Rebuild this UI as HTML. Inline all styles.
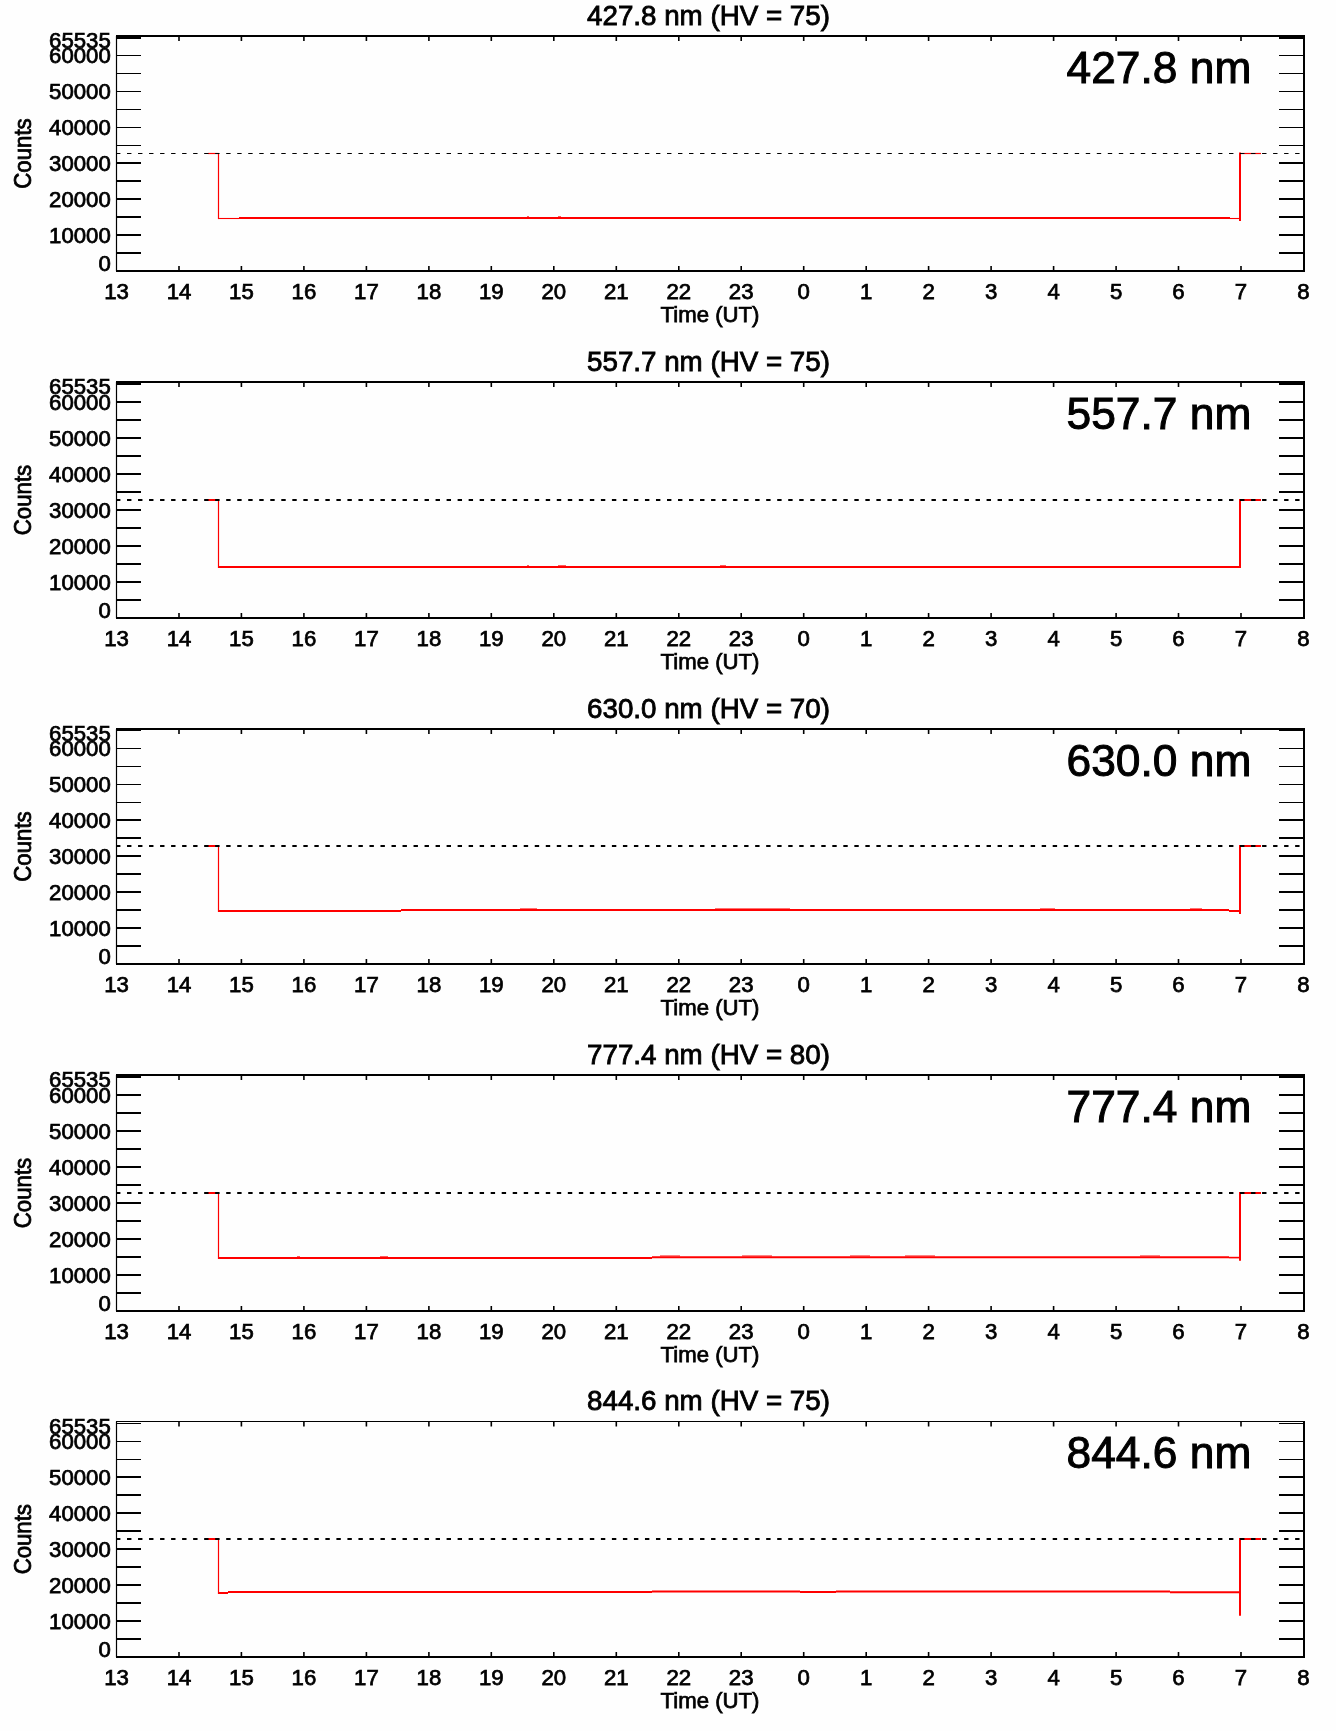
<!DOCTYPE html><html><head><meta charset="utf-8"><title>Chart</title><style>
html,body{margin:0;padding:0;background:#fff}svg{display:block;will-change:transform}
text{font-family:"Liberation Sans",sans-serif;fill:#000;stroke:#000;stroke-width:0.75px}
.t{font-size:22.2px}.ti{font-size:27.75px;stroke-width:0.85px}.bg{font-size:44.3px;stroke-width:1px}
</style></head><body>
<svg width="1336" height="1731" viewBox="0 0 1336 1731">
<rect width="1336" height="1731" fill="#fefefe"/>
<g>
<text class="ti" transform="translate(708.5 24.5) scale(1 1.0)" text-anchor="middle">427.8 nm (HV = 75)</text>
<text class="bg" transform="translate(1251.3 82.8) scale(1 1.0)" text-anchor="end">427.8 nm</text>
<g stroke="#000" fill="none" stroke-width="2">
<line x1="116" x2="1305" y1="36" y2="36" stroke-width="2"/>
<line x1="116" x2="1305" y1="271" y2="271"/>
<line x1="116.5" x2="116.5" y1="36" y2="271" stroke-width="1.2"/>
<line x1="1304.0" x2="1304.0" y1="35.0" y2="272"/>
<path d="M116.5 253.0H141M1279 253.0H1304.0" stroke-width="2"/>
<path d="M116.5 235.0H141M1279 235.0H1304.0" stroke-width="2"/>
<path d="M116.5 217.0H141M1279 217.0H1304.0" stroke-width="2"/>
<path d="M116.5 199.0H141M1279 199.0H1304.0" stroke-width="2"/>
<path d="M116.5 181.0H141M1279 181.0H1304.0" stroke-width="2"/>
<path d="M116.5 163.0H141M1279 163.0H1304.0" stroke-width="2"/>
<path d="M116.5 145.5H141M1279 145.5H1304.0" stroke-width="1.1"/>
<path d="M116.5 127.5H141M1279 127.5H1304.0" stroke-width="1.1"/>
<path d="M116.5 109.5H141M1279 109.5H1304.0" stroke-width="1.1"/>
<path d="M116.5 91.5H141M1279 91.5H1304.0" stroke-width="1.1"/>
<path d="M116.5 73.5H141M1279 73.5H1304.0" stroke-width="1.1"/>
<path d="M116.5 55.5H141M1279 55.5H1304.0" stroke-width="1.1"/>
<path d="M116.5 38H141M1279 38H1304.0" stroke-width="2"/>
<path d="M179.0 36v5M179.0 271v-5" stroke-width="1.6"/>
<path d="M241.4 36v5M241.4 271v-5" stroke-width="1.6"/>
<path d="M303.9 36v5M303.9 271v-5" stroke-width="1.6"/>
<path d="M366.4 36v5M366.4 271v-5" stroke-width="1.6"/>
<path d="M428.9 36v5M428.9 271v-5" stroke-width="1.6"/>
<path d="M491.3 36v5M491.3 271v-5" stroke-width="1.6"/>
<path d="M553.8 36v5M553.8 271v-5" stroke-width="1.6"/>
<path d="M616.3 36v5M616.3 271v-5" stroke-width="1.6"/>
<path d="M678.8 36v5M678.8 271v-5" stroke-width="1.6"/>
<path d="M741.2 36v5M741.2 271v-5" stroke-width="1.6"/>
<path d="M803.7 36v5M803.7 271v-5" stroke-width="1.6"/>
<path d="M866.2 36v5M866.2 271v-5" stroke-width="1.6"/>
<path d="M928.6 36v5M928.6 271v-5" stroke-width="1.6"/>
<path d="M991.1 36v5M991.1 271v-5" stroke-width="1.6"/>
<path d="M1053.6 36v5M1053.6 271v-5" stroke-width="1.6"/>
<path d="M1116.1 36v5M1116.1 271v-5" stroke-width="1.6"/>
<path d="M1178.5 36v5M1178.5 271v-5" stroke-width="1.6"/>
<path d="M1241.0 36v5M1241.0 271v-5" stroke-width="1.6"/>
</g>
<text class="t" transform="translate(116.5 298.9) scale(1 1.0)" text-anchor="middle">13</text>
<text class="t" transform="translate(179.0 298.9) scale(1 1.0)" text-anchor="middle">14</text>
<text class="t" transform="translate(241.4 298.9) scale(1 1.0)" text-anchor="middle">15</text>
<text class="t" transform="translate(303.9 298.9) scale(1 1.0)" text-anchor="middle">16</text>
<text class="t" transform="translate(366.4 298.9) scale(1 1.0)" text-anchor="middle">17</text>
<text class="t" transform="translate(428.9 298.9) scale(1 1.0)" text-anchor="middle">18</text>
<text class="t" transform="translate(491.3 298.9) scale(1 1.0)" text-anchor="middle">19</text>
<text class="t" transform="translate(553.8 298.9) scale(1 1.0)" text-anchor="middle">20</text>
<text class="t" transform="translate(616.3 298.9) scale(1 1.0)" text-anchor="middle">21</text>
<text class="t" transform="translate(678.8 298.9) scale(1 1.0)" text-anchor="middle">22</text>
<text class="t" transform="translate(741.2 298.9) scale(1 1.0)" text-anchor="middle">23</text>
<text class="t" transform="translate(803.7 298.9) scale(1 1.0)" text-anchor="middle">0</text>
<text class="t" transform="translate(866.2 298.9) scale(1 1.0)" text-anchor="middle">1</text>
<text class="t" transform="translate(928.6 298.9) scale(1 1.0)" text-anchor="middle">2</text>
<text class="t" transform="translate(991.1 298.9) scale(1 1.0)" text-anchor="middle">3</text>
<text class="t" transform="translate(1053.6 298.9) scale(1 1.0)" text-anchor="middle">4</text>
<text class="t" transform="translate(1116.1 298.9) scale(1 1.0)" text-anchor="middle">5</text>
<text class="t" transform="translate(1178.5 298.9) scale(1 1.0)" text-anchor="middle">6</text>
<text class="t" transform="translate(1241.0 298.9) scale(1 1.0)" text-anchor="middle">7</text>
<text class="t" transform="translate(1303.5 298.9) scale(1 1.0)" text-anchor="middle">8</text>
<text class="t" transform="translate(710.0 322.4) scale(1 1.0)" text-anchor="middle">Time (UT)</text>
<text class="t" transform="translate(110.8 271.2) scale(1 1.0)" text-anchor="end">0</text>
<text class="t" transform="translate(110.8 243.1) scale(1 1.0)" text-anchor="end">10000</text>
<text class="t" transform="translate(110.8 207.1) scale(1 1.0)" text-anchor="end">20000</text>
<text class="t" transform="translate(110.8 171.1) scale(1 1.0)" text-anchor="end">30000</text>
<text class="t" transform="translate(110.8 135.1) scale(1 1.0)" text-anchor="end">40000</text>
<text class="t" transform="translate(110.8 99.1) scale(1 1.0)" text-anchor="end">50000</text>
<text class="t" transform="translate(110.8 63.1) scale(1 1.0)" text-anchor="end">60000</text>
<text class="t" transform="translate(110.8 48.3) scale(1 1.0)" text-anchor="end">65535</text>
<text class="t" transform="translate(31.3 153.5) rotate(-90) scale(1 1.07) scale(1 1.0)" text-anchor="middle">Counts</text>
<g stroke="#f00" fill="none">
<path d="M208 153.5H219" stroke-width="1.2"/>
<path d="M218.5 153.5V219.05" stroke-width="1.2"/>
<path d="M218 218.5H239" stroke-width="1.1"/>
<path d="M239 218H1230" stroke-width="2"/>
<path d="M1230 218.5H1240" stroke-width="1.1"/>
<path d="M527 216.7h2" stroke-width="0.8"/>
<path d="M558 216.7h3" stroke-width="0.8"/>
<path d="M1240 221V152.5" stroke-width="2"/>
<path d="M1240 153.5H1261" stroke-width="1.2"/>
</g>
<path d="M116 153.5H1301" stroke="#000" stroke-width="1.2" stroke-dasharray="4.4 6.62" fill="none"/>
</g>
<g>
<text class="ti" transform="translate(708.5 370.5) scale(1 1.0)" text-anchor="middle">557.7 nm (HV = 75)</text>
<text class="bg" transform="translate(1251.3 428.8) scale(1 1.0)" text-anchor="end">557.7 nm</text>
<g stroke="#000" fill="none" stroke-width="2">
<line x1="116" x2="1305" y1="382" y2="382" stroke-width="2"/>
<line x1="116" x2="1305" y1="618" y2="618"/>
<line x1="116.5" x2="116.5" y1="382" y2="618" stroke-width="1.2"/>
<line x1="1304.0" x2="1304.0" y1="381.0" y2="619"/>
<path d="M116.5 600.0H141M1279 600.0H1304.0" stroke-width="2"/>
<path d="M116.5 582.0H141M1279 582.0H1304.0" stroke-width="2"/>
<path d="M116.5 564.0H141M1279 564.0H1304.0" stroke-width="2"/>
<path d="M116.5 546.0H141M1279 546.0H1304.0" stroke-width="2"/>
<path d="M116.5 528.0H141M1279 528.0H1304.0" stroke-width="2"/>
<path d="M116.5 510.0H141M1279 510.0H1304.0" stroke-width="2"/>
<path d="M116.5 492.0H141M1279 492.0H1304.0" stroke-width="2"/>
<path d="M116.5 474.0H141M1279 474.0H1304.0" stroke-width="2"/>
<path d="M116.5 456.0H141M1279 456.0H1304.0" stroke-width="2"/>
<path d="M116.5 438.0H141M1279 438.0H1304.0" stroke-width="2"/>
<path d="M116.5 420.0H141M1279 420.0H1304.0" stroke-width="2"/>
<path d="M116.5 402.0H141M1279 402.0H1304.0" stroke-width="2"/>
<path d="M116.5 384H141M1279 384H1304.0" stroke-width="2"/>
<path d="M179.0 382v5M179.0 618v-5" stroke-width="1.6"/>
<path d="M241.4 382v5M241.4 618v-5" stroke-width="1.6"/>
<path d="M303.9 382v5M303.9 618v-5" stroke-width="1.6"/>
<path d="M366.4 382v5M366.4 618v-5" stroke-width="1.6"/>
<path d="M428.9 382v5M428.9 618v-5" stroke-width="1.6"/>
<path d="M491.3 382v5M491.3 618v-5" stroke-width="1.6"/>
<path d="M553.8 382v5M553.8 618v-5" stroke-width="1.6"/>
<path d="M616.3 382v5M616.3 618v-5" stroke-width="1.6"/>
<path d="M678.8 382v5M678.8 618v-5" stroke-width="1.6"/>
<path d="M741.2 382v5M741.2 618v-5" stroke-width="1.6"/>
<path d="M803.7 382v5M803.7 618v-5" stroke-width="1.6"/>
<path d="M866.2 382v5M866.2 618v-5" stroke-width="1.6"/>
<path d="M928.6 382v5M928.6 618v-5" stroke-width="1.6"/>
<path d="M991.1 382v5M991.1 618v-5" stroke-width="1.6"/>
<path d="M1053.6 382v5M1053.6 618v-5" stroke-width="1.6"/>
<path d="M1116.1 382v5M1116.1 618v-5" stroke-width="1.6"/>
<path d="M1178.5 382v5M1178.5 618v-5" stroke-width="1.6"/>
<path d="M1241.0 382v5M1241.0 618v-5" stroke-width="1.6"/>
</g>
<text class="t" transform="translate(116.5 645.9) scale(1 1.0)" text-anchor="middle">13</text>
<text class="t" transform="translate(179.0 645.9) scale(1 1.0)" text-anchor="middle">14</text>
<text class="t" transform="translate(241.4 645.9) scale(1 1.0)" text-anchor="middle">15</text>
<text class="t" transform="translate(303.9 645.9) scale(1 1.0)" text-anchor="middle">16</text>
<text class="t" transform="translate(366.4 645.9) scale(1 1.0)" text-anchor="middle">17</text>
<text class="t" transform="translate(428.9 645.9) scale(1 1.0)" text-anchor="middle">18</text>
<text class="t" transform="translate(491.3 645.9) scale(1 1.0)" text-anchor="middle">19</text>
<text class="t" transform="translate(553.8 645.9) scale(1 1.0)" text-anchor="middle">20</text>
<text class="t" transform="translate(616.3 645.9) scale(1 1.0)" text-anchor="middle">21</text>
<text class="t" transform="translate(678.8 645.9) scale(1 1.0)" text-anchor="middle">22</text>
<text class="t" transform="translate(741.2 645.9) scale(1 1.0)" text-anchor="middle">23</text>
<text class="t" transform="translate(803.7 645.9) scale(1 1.0)" text-anchor="middle">0</text>
<text class="t" transform="translate(866.2 645.9) scale(1 1.0)" text-anchor="middle">1</text>
<text class="t" transform="translate(928.6 645.9) scale(1 1.0)" text-anchor="middle">2</text>
<text class="t" transform="translate(991.1 645.9) scale(1 1.0)" text-anchor="middle">3</text>
<text class="t" transform="translate(1053.6 645.9) scale(1 1.0)" text-anchor="middle">4</text>
<text class="t" transform="translate(1116.1 645.9) scale(1 1.0)" text-anchor="middle">5</text>
<text class="t" transform="translate(1178.5 645.9) scale(1 1.0)" text-anchor="middle">6</text>
<text class="t" transform="translate(1241.0 645.9) scale(1 1.0)" text-anchor="middle">7</text>
<text class="t" transform="translate(1303.5 645.9) scale(1 1.0)" text-anchor="middle">8</text>
<text class="t" transform="translate(710.0 669.4) scale(1 1.0)" text-anchor="middle">Time (UT)</text>
<text class="t" transform="translate(110.8 618.2) scale(1 1.0)" text-anchor="end">0</text>
<text class="t" transform="translate(110.8 590.1) scale(1 1.0)" text-anchor="end">10000</text>
<text class="t" transform="translate(110.8 554.1) scale(1 1.0)" text-anchor="end">20000</text>
<text class="t" transform="translate(110.8 518.1) scale(1 1.0)" text-anchor="end">30000</text>
<text class="t" transform="translate(110.8 482.1) scale(1 1.0)" text-anchor="end">40000</text>
<text class="t" transform="translate(110.8 446.1) scale(1 1.0)" text-anchor="end">50000</text>
<text class="t" transform="translate(110.8 410.1) scale(1 1.0)" text-anchor="end">60000</text>
<text class="t" transform="translate(110.8 394.3) scale(1 1.0)" text-anchor="end">65535</text>
<text class="t" transform="translate(31.3 500.0) rotate(-90) scale(1 1.07) scale(1 1.0)" text-anchor="middle">Counts</text>
<g stroke="#f00" fill="none">
<path d="M208 500H219" stroke-width="2"/>
<path d="M218.5 500V568.0" stroke-width="1.2"/>
<path d="M218 567H228" stroke-width="2"/>
<path d="M228 567H1240" stroke-width="2"/>
<path d="M527 565.7h2" stroke-width="0.8"/>
<path d="M558 565.7h8" stroke-width="0.8"/>
<path d="M720 565.7h6" stroke-width="0.8"/>
<path d="M1240 568V499" stroke-width="2"/>
<path d="M1240 500H1261" stroke-width="2"/>
</g>
<path d="M116 500H1301" stroke="#000" stroke-width="2" stroke-dasharray="4.4 6.62" fill="none"/>
</g>
<g>
<text class="ti" transform="translate(708.5 717.5) scale(1 1.0)" text-anchor="middle">630.0 nm (HV = 70)</text>
<text class="bg" transform="translate(1251.3 775.8) scale(1 1.0)" text-anchor="end">630.0 nm</text>
<g stroke="#000" fill="none" stroke-width="2">
<line x1="116" x2="1305" y1="729" y2="729" stroke-width="2"/>
<line x1="116" x2="1305" y1="964" y2="964"/>
<line x1="116.5" x2="116.5" y1="729" y2="964" stroke-width="1.2"/>
<line x1="1304.0" x2="1304.0" y1="728.0" y2="965"/>
<path d="M116.5 946.0H141M1279 946.0H1304.0" stroke-width="2"/>
<path d="M116.5 928.0H141M1279 928.0H1304.0" stroke-width="2"/>
<path d="M116.5 910.0H141M1279 910.0H1304.0" stroke-width="2"/>
<path d="M116.5 892.0H141M1279 892.0H1304.0" stroke-width="2"/>
<path d="M116.5 874.0H141M1279 874.0H1304.0" stroke-width="2"/>
<path d="M116.5 856.0H141M1279 856.0H1304.0" stroke-width="2"/>
<path d="M116.5 838.0H141M1279 838.0H1304.0" stroke-width="2"/>
<path d="M116.5 820.0H141M1279 820.0H1304.0" stroke-width="2"/>
<path d="M116.5 802.5H141M1279 802.5H1304.0" stroke-width="1.1"/>
<path d="M116.5 784.5H141M1279 784.5H1304.0" stroke-width="1.1"/>
<path d="M116.5 766.5H141M1279 766.5H1304.0" stroke-width="1.1"/>
<path d="M116.5 748.5H141M1279 748.5H1304.0" stroke-width="1.1"/>
<path d="M116.5 730.5H141M1279 730.5H1304.0" stroke-width="1"/>
<path d="M179.0 729v5M179.0 964v-5" stroke-width="1.6"/>
<path d="M241.4 729v5M241.4 964v-5" stroke-width="1.6"/>
<path d="M303.9 729v5M303.9 964v-5" stroke-width="1.6"/>
<path d="M366.4 729v5M366.4 964v-5" stroke-width="1.6"/>
<path d="M428.9 729v5M428.9 964v-5" stroke-width="1.6"/>
<path d="M491.3 729v5M491.3 964v-5" stroke-width="1.6"/>
<path d="M553.8 729v5M553.8 964v-5" stroke-width="1.6"/>
<path d="M616.3 729v5M616.3 964v-5" stroke-width="1.6"/>
<path d="M678.8 729v5M678.8 964v-5" stroke-width="1.6"/>
<path d="M741.2 729v5M741.2 964v-5" stroke-width="1.6"/>
<path d="M803.7 729v5M803.7 964v-5" stroke-width="1.6"/>
<path d="M866.2 729v5M866.2 964v-5" stroke-width="1.6"/>
<path d="M928.6 729v5M928.6 964v-5" stroke-width="1.6"/>
<path d="M991.1 729v5M991.1 964v-5" stroke-width="1.6"/>
<path d="M1053.6 729v5M1053.6 964v-5" stroke-width="1.6"/>
<path d="M1116.1 729v5M1116.1 964v-5" stroke-width="1.6"/>
<path d="M1178.5 729v5M1178.5 964v-5" stroke-width="1.6"/>
<path d="M1241.0 729v5M1241.0 964v-5" stroke-width="1.6"/>
</g>
<text class="t" transform="translate(116.5 991.9) scale(1 1.0)" text-anchor="middle">13</text>
<text class="t" transform="translate(179.0 991.9) scale(1 1.0)" text-anchor="middle">14</text>
<text class="t" transform="translate(241.4 991.9) scale(1 1.0)" text-anchor="middle">15</text>
<text class="t" transform="translate(303.9 991.9) scale(1 1.0)" text-anchor="middle">16</text>
<text class="t" transform="translate(366.4 991.9) scale(1 1.0)" text-anchor="middle">17</text>
<text class="t" transform="translate(428.9 991.9) scale(1 1.0)" text-anchor="middle">18</text>
<text class="t" transform="translate(491.3 991.9) scale(1 1.0)" text-anchor="middle">19</text>
<text class="t" transform="translate(553.8 991.9) scale(1 1.0)" text-anchor="middle">20</text>
<text class="t" transform="translate(616.3 991.9) scale(1 1.0)" text-anchor="middle">21</text>
<text class="t" transform="translate(678.8 991.9) scale(1 1.0)" text-anchor="middle">22</text>
<text class="t" transform="translate(741.2 991.9) scale(1 1.0)" text-anchor="middle">23</text>
<text class="t" transform="translate(803.7 991.9) scale(1 1.0)" text-anchor="middle">0</text>
<text class="t" transform="translate(866.2 991.9) scale(1 1.0)" text-anchor="middle">1</text>
<text class="t" transform="translate(928.6 991.9) scale(1 1.0)" text-anchor="middle">2</text>
<text class="t" transform="translate(991.1 991.9) scale(1 1.0)" text-anchor="middle">3</text>
<text class="t" transform="translate(1053.6 991.9) scale(1 1.0)" text-anchor="middle">4</text>
<text class="t" transform="translate(1116.1 991.9) scale(1 1.0)" text-anchor="middle">5</text>
<text class="t" transform="translate(1178.5 991.9) scale(1 1.0)" text-anchor="middle">6</text>
<text class="t" transform="translate(1241.0 991.9) scale(1 1.0)" text-anchor="middle">7</text>
<text class="t" transform="translate(1303.5 991.9) scale(1 1.0)" text-anchor="middle">8</text>
<text class="t" transform="translate(710.0 1015.4) scale(1 1.0)" text-anchor="middle">Time (UT)</text>
<text class="t" transform="translate(110.8 964.2) scale(1 1.0)" text-anchor="end">0</text>
<text class="t" transform="translate(110.8 936.1) scale(1 1.0)" text-anchor="end">10000</text>
<text class="t" transform="translate(110.8 900.1) scale(1 1.0)" text-anchor="end">20000</text>
<text class="t" transform="translate(110.8 864.1) scale(1 1.0)" text-anchor="end">30000</text>
<text class="t" transform="translate(110.8 828.1) scale(1 1.0)" text-anchor="end">40000</text>
<text class="t" transform="translate(110.8 792.1) scale(1 1.0)" text-anchor="end">50000</text>
<text class="t" transform="translate(110.8 756.1) scale(1 1.0)" text-anchor="end">60000</text>
<text class="t" transform="translate(110.8 741.3) scale(1 1.0)" text-anchor="end">65535</text>
<text class="t" transform="translate(31.3 846.5) rotate(-90) scale(1 1.07) scale(1 1.0)" text-anchor="middle">Counts</text>
<g stroke="#f00" fill="none">
<path d="M208 846H219" stroke-width="2"/>
<path d="M218.5 846V912.0" stroke-width="1.2"/>
<path d="M218 911H401" stroke-width="2"/>
<path d="M401 910H1229" stroke-width="1.8"/>
<path d="M1229 911H1240" stroke-width="2"/>
<path d="M520 908.8000000000001h17" stroke-width="0.8"/>
<path d="M715 908.8000000000001h75" stroke-width="0.8"/>
<path d="M1040 908.8000000000001h15" stroke-width="0.8"/>
<path d="M1190 908.8000000000001h12" stroke-width="0.8"/>
<path d="M1240 914V845" stroke-width="2"/>
<path d="M1240 846H1261" stroke-width="2"/>
</g>
<path d="M116 846H1301" stroke="#000" stroke-width="2" stroke-dasharray="4.4 6.62" fill="none"/>
</g>
<g>
<text class="ti" transform="translate(708.5 1063.5) scale(1 1.0)" text-anchor="middle">777.4 nm (HV = 80)</text>
<text class="bg" transform="translate(1251.3 1121.8) scale(1 1.0)" text-anchor="end">777.4 nm</text>
<g stroke="#000" fill="none" stroke-width="2">
<line x1="116" x2="1305" y1="1075" y2="1075" stroke-width="2"/>
<line x1="116" x2="1305" y1="1311" y2="1311"/>
<line x1="116.5" x2="116.5" y1="1075" y2="1311" stroke-width="1.2"/>
<line x1="1304.0" x2="1304.0" y1="1074.0" y2="1312"/>
<path d="M116.5 1293.0H141M1279 1293.0H1304.0" stroke-width="2"/>
<path d="M116.5 1275.0H141M1279 1275.0H1304.0" stroke-width="2"/>
<path d="M116.5 1257.0H141M1279 1257.0H1304.0" stroke-width="2"/>
<path d="M116.5 1239.0H141M1279 1239.0H1304.0" stroke-width="2"/>
<path d="M116.5 1221.0H141M1279 1221.0H1304.0" stroke-width="2"/>
<path d="M116.5 1203.0H141M1279 1203.0H1304.0" stroke-width="2"/>
<path d="M116.5 1185.0H141M1279 1185.0H1304.0" stroke-width="2"/>
<path d="M116.5 1167.0H141M1279 1167.0H1304.0" stroke-width="2"/>
<path d="M116.5 1149.0H141M1279 1149.0H1304.0" stroke-width="2"/>
<path d="M116.5 1131.0H141M1279 1131.0H1304.0" stroke-width="2"/>
<path d="M116.5 1113.0H141M1279 1113.0H1304.0" stroke-width="2"/>
<path d="M116.5 1095.0H141M1279 1095.0H1304.0" stroke-width="2"/>
<path d="M116.5 1077H141M1279 1077H1304.0" stroke-width="2"/>
<path d="M179.0 1075v5M179.0 1311v-5" stroke-width="1.6"/>
<path d="M241.4 1075v5M241.4 1311v-5" stroke-width="1.6"/>
<path d="M303.9 1075v5M303.9 1311v-5" stroke-width="1.6"/>
<path d="M366.4 1075v5M366.4 1311v-5" stroke-width="1.6"/>
<path d="M428.9 1075v5M428.9 1311v-5" stroke-width="1.6"/>
<path d="M491.3 1075v5M491.3 1311v-5" stroke-width="1.6"/>
<path d="M553.8 1075v5M553.8 1311v-5" stroke-width="1.6"/>
<path d="M616.3 1075v5M616.3 1311v-5" stroke-width="1.6"/>
<path d="M678.8 1075v5M678.8 1311v-5" stroke-width="1.6"/>
<path d="M741.2 1075v5M741.2 1311v-5" stroke-width="1.6"/>
<path d="M803.7 1075v5M803.7 1311v-5" stroke-width="1.6"/>
<path d="M866.2 1075v5M866.2 1311v-5" stroke-width="1.6"/>
<path d="M928.6 1075v5M928.6 1311v-5" stroke-width="1.6"/>
<path d="M991.1 1075v5M991.1 1311v-5" stroke-width="1.6"/>
<path d="M1053.6 1075v5M1053.6 1311v-5" stroke-width="1.6"/>
<path d="M1116.1 1075v5M1116.1 1311v-5" stroke-width="1.6"/>
<path d="M1178.5 1075v5M1178.5 1311v-5" stroke-width="1.6"/>
<path d="M1241.0 1075v5M1241.0 1311v-5" stroke-width="1.6"/>
</g>
<text class="t" transform="translate(116.5 1338.9) scale(1 1.0)" text-anchor="middle">13</text>
<text class="t" transform="translate(179.0 1338.9) scale(1 1.0)" text-anchor="middle">14</text>
<text class="t" transform="translate(241.4 1338.9) scale(1 1.0)" text-anchor="middle">15</text>
<text class="t" transform="translate(303.9 1338.9) scale(1 1.0)" text-anchor="middle">16</text>
<text class="t" transform="translate(366.4 1338.9) scale(1 1.0)" text-anchor="middle">17</text>
<text class="t" transform="translate(428.9 1338.9) scale(1 1.0)" text-anchor="middle">18</text>
<text class="t" transform="translate(491.3 1338.9) scale(1 1.0)" text-anchor="middle">19</text>
<text class="t" transform="translate(553.8 1338.9) scale(1 1.0)" text-anchor="middle">20</text>
<text class="t" transform="translate(616.3 1338.9) scale(1 1.0)" text-anchor="middle">21</text>
<text class="t" transform="translate(678.8 1338.9) scale(1 1.0)" text-anchor="middle">22</text>
<text class="t" transform="translate(741.2 1338.9) scale(1 1.0)" text-anchor="middle">23</text>
<text class="t" transform="translate(803.7 1338.9) scale(1 1.0)" text-anchor="middle">0</text>
<text class="t" transform="translate(866.2 1338.9) scale(1 1.0)" text-anchor="middle">1</text>
<text class="t" transform="translate(928.6 1338.9) scale(1 1.0)" text-anchor="middle">2</text>
<text class="t" transform="translate(991.1 1338.9) scale(1 1.0)" text-anchor="middle">3</text>
<text class="t" transform="translate(1053.6 1338.9) scale(1 1.0)" text-anchor="middle">4</text>
<text class="t" transform="translate(1116.1 1338.9) scale(1 1.0)" text-anchor="middle">5</text>
<text class="t" transform="translate(1178.5 1338.9) scale(1 1.0)" text-anchor="middle">6</text>
<text class="t" transform="translate(1241.0 1338.9) scale(1 1.0)" text-anchor="middle">7</text>
<text class="t" transform="translate(1303.5 1338.9) scale(1 1.0)" text-anchor="middle">8</text>
<text class="t" transform="translate(710.0 1362.4) scale(1 1.0)" text-anchor="middle">Time (UT)</text>
<text class="t" transform="translate(110.8 1311.2) scale(1 1.0)" text-anchor="end">0</text>
<text class="t" transform="translate(110.8 1283.1) scale(1 1.0)" text-anchor="end">10000</text>
<text class="t" transform="translate(110.8 1247.1) scale(1 1.0)" text-anchor="end">20000</text>
<text class="t" transform="translate(110.8 1211.1) scale(1 1.0)" text-anchor="end">30000</text>
<text class="t" transform="translate(110.8 1175.1) scale(1 1.0)" text-anchor="end">40000</text>
<text class="t" transform="translate(110.8 1139.1) scale(1 1.0)" text-anchor="end">50000</text>
<text class="t" transform="translate(110.8 1103.1) scale(1 1.0)" text-anchor="end">60000</text>
<text class="t" transform="translate(110.8 1087.3) scale(1 1.0)" text-anchor="end">65535</text>
<text class="t" transform="translate(31.3 1193.0) rotate(-90) scale(1 1.07) scale(1 1.0)" text-anchor="middle">Counts</text>
<g stroke="#f00" fill="none">
<path d="M208 1193H219" stroke-width="2"/>
<path d="M218.5 1193V1259.0" stroke-width="1.2"/>
<path d="M218 1258H652" stroke-width="2"/>
<path d="M652 1257.2H1229" stroke-width="2"/>
<path d="M1229 1257.6H1240" stroke-width="1.6"/>
<path d="M297 1256.7h3" stroke-width="0.8"/>
<path d="M380 1256.7h8" stroke-width="0.8"/>
<path d="M660 1255.9h20" stroke-width="0.8"/>
<path d="M742 1255.9h30" stroke-width="0.8"/>
<path d="M850 1255.9h20" stroke-width="0.8"/>
<path d="M905 1255.9h30" stroke-width="0.8"/>
<path d="M1140 1255.9h20" stroke-width="0.8"/>
<path d="M1240 1260.7V1192" stroke-width="2"/>
<path d="M1240 1193H1261" stroke-width="2"/>
</g>
<path d="M116 1193H1301" stroke="#000" stroke-width="2" stroke-dasharray="4.4 6.62" fill="none"/>
</g>
<g>
<text class="ti" transform="translate(708.5 1410.0) scale(1 1.0)" text-anchor="middle">844.6 nm (HV = 75)</text>
<text class="bg" transform="translate(1251.3 1468.3) scale(1 1.0)" text-anchor="end">844.6 nm</text>
<g stroke="#000" fill="none" stroke-width="2">
<line x1="116" x2="1305" y1="1421.5" y2="1421.5" stroke-width="1"/>
<line x1="116" x2="1305" y1="1657" y2="1657"/>
<line x1="116.5" x2="116.5" y1="1421.5" y2="1657" stroke-width="1.2"/>
<line x1="1304.0" x2="1304.0" y1="1421.0" y2="1658"/>
<path d="M116.5 1639.0H141M1279 1639.0H1304.0" stroke-width="2"/>
<path d="M116.5 1621.0H141M1279 1621.0H1304.0" stroke-width="2"/>
<path d="M116.5 1603.0H141M1279 1603.0H1304.0" stroke-width="2"/>
<path d="M116.5 1585.0H141M1279 1585.0H1304.0" stroke-width="2"/>
<path d="M116.5 1567.0H141M1279 1567.0H1304.0" stroke-width="2"/>
<path d="M116.5 1549.0H141M1279 1549.0H1304.0" stroke-width="2"/>
<path d="M116.5 1531.0H141M1279 1531.0H1304.0" stroke-width="2"/>
<path d="M116.5 1513.0H141M1279 1513.0H1304.0" stroke-width="2"/>
<path d="M116.5 1495.0H141M1279 1495.0H1304.0" stroke-width="2"/>
<path d="M116.5 1477.0H141M1279 1477.0H1304.0" stroke-width="2"/>
<path d="M116.5 1459.5H141M1279 1459.5H1304.0" stroke-width="1.1"/>
<path d="M116.5 1441.5H141M1279 1441.5H1304.0" stroke-width="1.1"/>
<path d="M116.5 1423.5H141M1279 1423.5H1304.0" stroke-width="1"/>
<path d="M179.0 1421.5v5M179.0 1657v-5" stroke-width="1.6"/>
<path d="M241.4 1421.5v5M241.4 1657v-5" stroke-width="1.6"/>
<path d="M303.9 1421.5v5M303.9 1657v-5" stroke-width="1.6"/>
<path d="M366.4 1421.5v5M366.4 1657v-5" stroke-width="1.6"/>
<path d="M428.9 1421.5v5M428.9 1657v-5" stroke-width="1.6"/>
<path d="M491.3 1421.5v5M491.3 1657v-5" stroke-width="1.6"/>
<path d="M553.8 1421.5v5M553.8 1657v-5" stroke-width="1.6"/>
<path d="M616.3 1421.5v5M616.3 1657v-5" stroke-width="1.6"/>
<path d="M678.8 1421.5v5M678.8 1657v-5" stroke-width="1.6"/>
<path d="M741.2 1421.5v5M741.2 1657v-5" stroke-width="1.6"/>
<path d="M803.7 1421.5v5M803.7 1657v-5" stroke-width="1.6"/>
<path d="M866.2 1421.5v5M866.2 1657v-5" stroke-width="1.6"/>
<path d="M928.6 1421.5v5M928.6 1657v-5" stroke-width="1.6"/>
<path d="M991.1 1421.5v5M991.1 1657v-5" stroke-width="1.6"/>
<path d="M1053.6 1421.5v5M1053.6 1657v-5" stroke-width="1.6"/>
<path d="M1116.1 1421.5v5M1116.1 1657v-5" stroke-width="1.6"/>
<path d="M1178.5 1421.5v5M1178.5 1657v-5" stroke-width="1.6"/>
<path d="M1241.0 1421.5v5M1241.0 1657v-5" stroke-width="1.6"/>
</g>
<text class="t" transform="translate(116.5 1684.9) scale(1 1.0)" text-anchor="middle">13</text>
<text class="t" transform="translate(179.0 1684.9) scale(1 1.0)" text-anchor="middle">14</text>
<text class="t" transform="translate(241.4 1684.9) scale(1 1.0)" text-anchor="middle">15</text>
<text class="t" transform="translate(303.9 1684.9) scale(1 1.0)" text-anchor="middle">16</text>
<text class="t" transform="translate(366.4 1684.9) scale(1 1.0)" text-anchor="middle">17</text>
<text class="t" transform="translate(428.9 1684.9) scale(1 1.0)" text-anchor="middle">18</text>
<text class="t" transform="translate(491.3 1684.9) scale(1 1.0)" text-anchor="middle">19</text>
<text class="t" transform="translate(553.8 1684.9) scale(1 1.0)" text-anchor="middle">20</text>
<text class="t" transform="translate(616.3 1684.9) scale(1 1.0)" text-anchor="middle">21</text>
<text class="t" transform="translate(678.8 1684.9) scale(1 1.0)" text-anchor="middle">22</text>
<text class="t" transform="translate(741.2 1684.9) scale(1 1.0)" text-anchor="middle">23</text>
<text class="t" transform="translate(803.7 1684.9) scale(1 1.0)" text-anchor="middle">0</text>
<text class="t" transform="translate(866.2 1684.9) scale(1 1.0)" text-anchor="middle">1</text>
<text class="t" transform="translate(928.6 1684.9) scale(1 1.0)" text-anchor="middle">2</text>
<text class="t" transform="translate(991.1 1684.9) scale(1 1.0)" text-anchor="middle">3</text>
<text class="t" transform="translate(1053.6 1684.9) scale(1 1.0)" text-anchor="middle">4</text>
<text class="t" transform="translate(1116.1 1684.9) scale(1 1.0)" text-anchor="middle">5</text>
<text class="t" transform="translate(1178.5 1684.9) scale(1 1.0)" text-anchor="middle">6</text>
<text class="t" transform="translate(1241.0 1684.9) scale(1 1.0)" text-anchor="middle">7</text>
<text class="t" transform="translate(1303.5 1684.9) scale(1 1.0)" text-anchor="middle">8</text>
<text class="t" transform="translate(710.0 1708.4) scale(1 1.0)" text-anchor="middle">Time (UT)</text>
<text class="t" transform="translate(110.8 1657.2) scale(1 1.0)" text-anchor="end">0</text>
<text class="t" transform="translate(110.8 1629.1) scale(1 1.0)" text-anchor="end">10000</text>
<text class="t" transform="translate(110.8 1593.1) scale(1 1.0)" text-anchor="end">20000</text>
<text class="t" transform="translate(110.8 1557.1) scale(1 1.0)" text-anchor="end">30000</text>
<text class="t" transform="translate(110.8 1521.1) scale(1 1.0)" text-anchor="end">40000</text>
<text class="t" transform="translate(110.8 1485.1) scale(1 1.0)" text-anchor="end">50000</text>
<text class="t" transform="translate(110.8 1449.1) scale(1 1.0)" text-anchor="end">60000</text>
<text class="t" transform="translate(110.8 1433.8) scale(1 1.0)" text-anchor="end">65535</text>
<text class="t" transform="translate(31.3 1539.2) rotate(-90) scale(1 1.07) scale(1 1.0)" text-anchor="middle">Counts</text>
<g stroke="#f00" fill="none">
<path d="M208 1539H219" stroke-width="2"/>
<path d="M218.5 1539V1594.0" stroke-width="1.2"/>
<path d="M218 1593H228" stroke-width="2"/>
<path d="M228 1592H652" stroke-width="2"/>
<path d="M652 1591.5H800" stroke-width="2"/>
<path d="M800 1592H836" stroke-width="2"/>
<path d="M836 1591.5H1170" stroke-width="2"/>
<path d="M1170 1592.2H1240" stroke-width="2"/>
<path d="M1240 1615.7V1538" stroke-width="2"/>
<path d="M1240 1539H1261" stroke-width="2"/>
</g>
<path d="M116 1539H1301" stroke="#000" stroke-width="2" stroke-dasharray="4.4 6.62" fill="none"/>
</g>
</svg></body></html>
